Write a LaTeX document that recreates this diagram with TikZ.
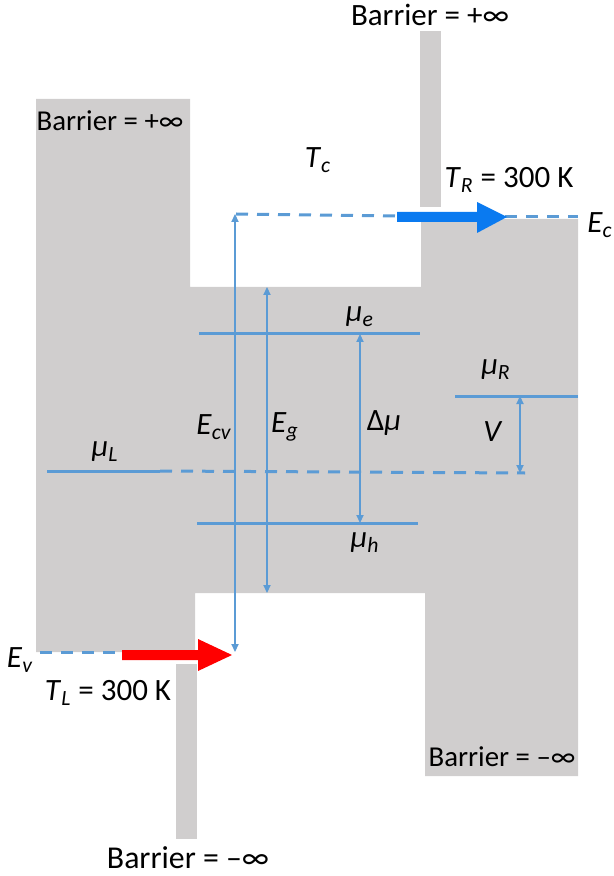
\documentclass[tikz,border=0pt]{standalone}
\usepackage{fontspec}
\setmainfont{Carlito}
\usetikzlibrary{arrows.meta}
\definecolor{bargray}{RGB}{208,206,206}
\definecolor{lvlblue}{RGB}{91,155,213}
\definecolor{arrblue}{RGB}{10,122,240}
\begin{document}
\begin{tikzpicture}[x=0.5pt,y=-0.5pt,line join=miter,font=\fontsize{15.5}{18}\selectfont]
			\tikzset{every node/.style={inner sep=0pt,outer sep=0pt}}
			\tikzset{level/.style={lvlblue,line width=1.5pt}}
			\tikzset{dashlevel/.style={lvlblue,line width=1.5pt,dash pattern=on 6pt off 4.5pt}}
			\tikzset{gap/.style={lvlblue,line width=0.6pt,{Triangle[length=4pt,width=3.6pt]}-{Triangle[length=4pt,width=3.6pt]}}}
			\tikzset{smallbar/.style={font=\fontsize{14.4}{17}\selectfont}}
			\tikzset{bigbar/.style={font=\fontsize{15.9}{18}\selectfont}}
			\def \mi{\itshape μ}
			\useasboundingbox (0,0) rectangle (614,876);
			\fill[bargray] (36,99)--(190,99)--(190,287)--(421,287)--(421,219)--(578,219)--(578,776)--(425,776)--(425,593)--(195,593)--(195,652)--(36,652)--cycle;
			\fill[bargray] (420,31) rectangle (441,207);
			\fill[bargray] (176,664) rectangle (197,839);
			\coordinate (ecL) at (236,214);
			\coordinate (ecA) at (398,216);
			\coordinate (ecB) at (505,217);
			\coordinate (ecR) at (578,217);
			\coordinate (evL) at (40,652);
			\coordinate (evA) at (123,652);
			\coordinate (cvTop) at (235,214);
			\coordinate (cvBot) at (235,652);
			\coordinate (gTop) at (267,287);
			\coordinate (gBot) at (267,593);
			\coordinate (eL) at (199,334);
			\coordinate (eR) at (420,334);
			\coordinate (hL) at (197,523);
			\coordinate (hR) at (418,523);
			\coordinate (dmTop) at (360,334);
			\coordinate (dmBot) at (360,523);
			\coordinate (rL) at (455,396);
			\coordinate (rR) at (578,396);
			\coordinate (lL) at (47,471);
			\coordinate (lM) at (160,471);
			\coordinate (lR) at (525,473);
			\coordinate (vTop) at (520,396);
			\coordinate (vBot) at (520,473);
			\draw[dashlevel] (ecL)--(ecA);
			\draw[dashlevel] (ecB)--(ecR);
			\draw[dashlevel] (evL)--(evA);
			\draw[level] (eL)--(eR);
			\draw[level] (hL)--(hR);
			\draw[level] (rL)--(rR);
			\draw[level] (lL)--(lM);
			\draw[dashlevel] (lM)--(lR);
			\draw[gap] (cvTop)--(cvBot);
			\draw[gap] (gTop)--(gBot);
			\draw[gap] (dmTop)--(dmBot);
			\draw[gap] (vTop)--(vBot);
			\fill[arrblue] (397,212)--(477,212)--(477,202)--(507,217)--(477,233)--(477,222)--(397,222)--cycle;
			\fill[red] (122,650)--(198,650)--(198,639)--(232,655)--(198,671)--(198,660)--(122,660)--cycle;
			\node (barTop) at (430,15) {Barrier = +∞};
			\node[smallbar] (barLeft) at (110,121) {Barrier = +∞};
			\node[smallbar] (barRight) at (502,757) {Barrier = –∞};
			\node[bigbar] (barBot) at (188,858) {Barrier = –∞};
			\node (tc) at (318,160) {\textit{T}\textsubscript{\itshape c}};
			\node (tr) at (509,180) {\textit{T}\textsubscript{\itshape R} = 300 K};
			\node (tl) at (108,693) {\textit{T}\textsubscript{\itshape L} = 300 K};
			\node (ec) at (600,225) {\textit{E}\textsubscript{\itshape c}};
			\node (ev) at (20,660) {\textit{E}\textsubscript{\itshape v}};
			\node (mue) at (360,317) {{\mi}\textsubscript{\itshape e}};
			\node (muh) at (365,543) {{\mi}\textsubscript{\itshape h}};
			\node (mur) at (496,370) {{\mi}\textsubscript{\itshape R}};
			\node (mul) at (105,452) {{\mi}\textsubscript{\itshape L}};
			\node (ecv) at (214,427) {\textit{E}\textsubscript{\itshape cv}};
			\node (eg) at (285,427) {\textit{E}\textsubscript{\itshape g}};
			\node (dmu) at (384,423) {Δ{\mi}};
			\node (v) at (493,432) {\textit{V}};
		\end{tikzpicture}
\end{document}
